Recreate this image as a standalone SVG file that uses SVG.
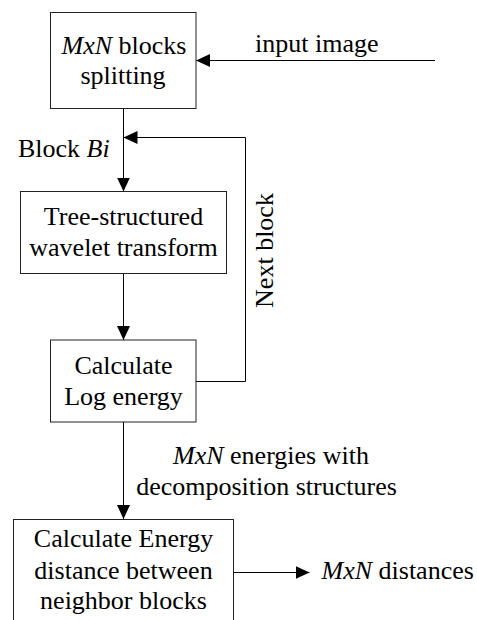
<svg xmlns="http://www.w3.org/2000/svg" width="477" height="620" viewBox="0 0 477 620">
<style>
.box{fill:#fff;stroke:#222;stroke-width:1}
.t{font-family:'Liberation Serif','Times New Roman',serif;font-size:26px;fill:#000}
.m{text-anchor:middle}
.i{font-style:italic}
.c{fill:none;stroke:#000;stroke-width:1}
</style>
<defs>
<marker id="ah" markerUnits="userSpaceOnUse" markerWidth="14" markerHeight="13" refX="14" refY="6.5" orient="auto">
<path d="M0,0 L14,6.5 L0,13 z" fill="#000"/>
</marker>
</defs>
<rect width="477" height="620" fill="#fff"/>
<g id="connectors">
<path class="c" d="M435,60.5 H196" marker-end="url(#ah)"/>
<path class="c" d="M123.5,108.5 V191.5" marker-end="url(#ah)"/>
<path class="c" d="M123.5,273.5 V340" marker-end="url(#ah)"/>
<path class="c" d="M196,381.5 H245.5 V137.5 H123.5" marker-end="url(#ah)"/>
<path class="c" d="M123.5,422 V519" marker-end="url(#ah)"/>
<path class="c" d="M233,572.5 H309.5" marker-end="url(#ah)"/>
</g>
<g id="split">
<rect class="box" x="50.5" y="12.5" width="145.5" height="96"/>
<text class="t m" x="124" y="53.5"><tspan class="i">MxN</tspan> blocks</text>
<text class="t m" x="123" y="83.5">splitting</text>
</g>
<g id="wavelet">
<rect class="box" x="20.5" y="191.5" width="206" height="82"/>
<text class="t m" x="123.5" y="225">Tree-structured</text>
<text class="t m" x="123.5" y="256">wavelet transform</text>
</g>
<g id="logenergy">
<rect class="box" x="50.5" y="340" width="145.5" height="82"/>
<text class="t m" x="123.5" y="374">Calculate</text>
<text class="t m" x="123.5" y="405">Log energy</text>
</g>
<g id="distance">
<rect class="box" x="13.5" y="519.5" width="220" height="110"/>
<text class="t m" x="123.5" y="547">Calculate Energy</text>
<text class="t m" x="123.5" y="578.5">distance between</text>
<text class="t m" x="123.5" y="608.5">neighbor blocks</text>
</g>
<g id="labels">
<text class="t" x="255" y="52">input image</text>
<text class="t" x="18" y="157">Block <tspan class="i">Bi</tspan></text>
<text class="t m" transform="translate(273,250.5) rotate(-90)">Next block</text>
<text class="t m" x="271" y="464"><tspan class="i">MxN</tspan> energies with</text>
<text class="t m" x="266.5" y="495">decomposition structures</text>
<text class="t" x="321.5" y="579"><tspan class="i">MxN</tspan> distances</text>
</g>
</svg>
